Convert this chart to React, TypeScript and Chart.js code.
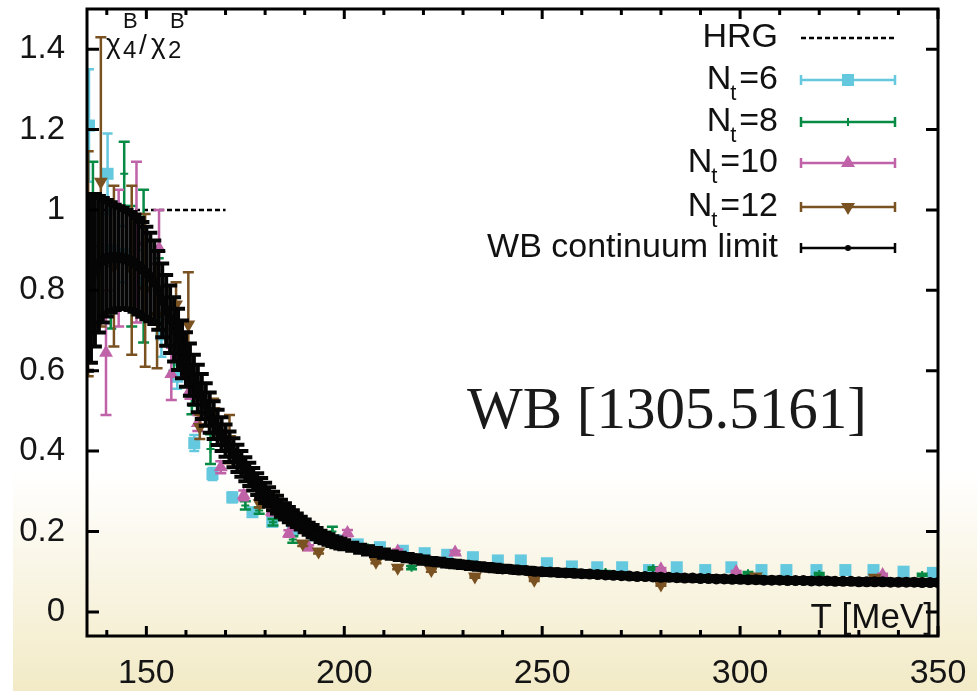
import React, { useEffect, useRef } from "react";
import { Chart, registerables } from "chart.js";

Chart.register(...registerables);

// ---------- axes ----------
const xMin = 135;
const xMax = 350;
const yMin = -0.06;
const yMax = 1.5;
const xTicks = [150, 200, 250, 300, 350];
const xMinorTicks = [140, 160, 170, 180, 190, 210, 220, 230, 240, 260, 270, 280, 290, 310, 320, 330, 340];
const yTicks = [0, 0.2, 0.4, 0.6, 0.8, 1, 1.2, 1.4];

// ---------- HRG ----------
const hrgT = [135, 170];
const hrgV = [1, 1];

// ---------- Nt=6 ----------
const nt6T = [135.5, 140.2, 141, 144, 147.5, 153.8, 157.8, 162.1, 166.7, 171.7, 176.8, 181.8, 187, 192.3, 197.8, 203.4, 209, 214.8, 220.3, 226, 232.5, 238.8, 244.6, 251.2, 257.5, 263.9, 270.2, 277, 284, 291.2, 297.8, 305.4, 311.7, 319.3, 326.6, 333.7, 341.3, 348.7];
const nt6V = [1.21, 1.09, 0.9, 0.89, 0.82, 0.69, 0.585, 0.42, 0.343, 0.285, 0.248, 0.224, 0.205, 0.19, 0.178, 0.168, 0.161, 0.152, 0.146, 0.142, 0.136, 0.128, 0.128, 0.121, 0.113, 0.111, 0.111, 0.104, 0.111, 0.104, 0.111, 0.104, 0.104, 0.104, 0.104, 0.104, 0.1, 0.097];
const nt6E = [0.14, 0.1, 0.1, 0.07, 0.08, 0.055, 0.03, 0.02, 0.015, 0.012, 0.01, 0.008, 0.008, 0.006, 0.005, 0.005, 0.005, 0.004, 0.004, 0.004, 0.003, 0.003, 0.003, 0.003, 0.003, 0.003, 0.003, 0.003, 0.003, 0.003, 0.003, 0.003, 0.003, 0.003, 0.003, 0.003, 0.003, 0.003];

// ---------- Nt=8 ----------
const nt8T = [136.5, 141, 144.4, 146.3, 149.3, 153, 157, 161.5, 166.2, 175, 178.5, 182, 187, 197, 206, 217, 266, 278, 302, 320, 346];
const nt8V = [0.91, 0.86, 1.09, 0.86, 0.86, 0.8, 0.66, 0.512, 0.405, 0.265, 0.252, 0.223, 0.18, 0.2, 0.16, 0.11, 0.099, 0.108, 0.096, 0.094, 0.092];
const nt8E = [0.21, 0.155, 0.08, 0.15, 0.19, 0.08, 0.06, 0.02, 0.037, 0.01, 0.008, 0.008, 0.008, 0.012, 0.005, 0.004, 0.003, 0.003, 0.003, 0.003, 0.003];

// ---------- Nt=10 ----------
const nt10T = [139.8, 143, 147.5, 153.2, 156.3, 161, 163, 168.8, 174.6, 181.7, 186, 191, 200.8, 213.5, 228, 280, 299, 336];
const nt10V = [0.645, 0.88, 0.92, 0.905, 0.592, 0.55, 0.47, 0.36, 0.29, 0.25, 0.195, 0.16, 0.196, 0.15, 0.148, 0.106, 0.099, 0.092];
const nt10E = [0.155, 0.17, 0.2, 0.095, 0.065, 0.02, 0.02, 0.015, 0.012, 0.01, 0.008, 0.006, 0.008, 0.005, 0.004, 0.003, 0.003, 0.003];

// ---------- Nt=12 ----------
const nt12T = [135.3, 138.5, 141.8, 146.3, 149.7, 152.7, 157.5, 160.6, 163.5, 167, 171, 178.6, 189.5, 193.5, 208, 213.5, 222, 233, 248, 280, 304, 334];
const nt12V = [0.866, 1.07, 0.86, 0.85, 0.8, 0.736, 0.765, 0.715, 0.46, 0.5, 0.43, 0.27, 0.17, 0.15, 0.125, 0.11, 0.104, 0.088, 0.08, 0.068, 0.088, 0.085];
const nt12E = [0.28, 0.36, 0.2, 0.21, 0.19, 0.13, 0.055, 0.13, 0.03, 0.03, 0.06, 0.01, 0.006, 0.005, 0.004, 0.004, 0.004, 0.003, 0.003, 0.003, 0.004, 0.004];

// ---------- WB continuum limit ----------
const wbT = [135, 136, 137, 138, 139, 140, 141, 142, 143, 144, 145, 146, 147, 148, 149, 150, 151, 152, 153, 154, 155, 156, 157, 158, 159, 160, 161, 162, 163, 164, 165, 166, 167, 168, 169, 170, 171, 172, 173, 174, 175, 176, 177, 178, 179, 180, 181, 182, 183, 184, 185, 186, 187, 188, 189, 190, 191, 192, 193, 194, 195, 196, 197, 198, 199, 200,
  202, 204, 206, 208, 210, 212, 214, 216, 218, 220, 222, 224, 226, 228, 230, 232, 234, 236, 238, 240, 242, 244, 246, 248, 250, 252, 254, 256, 258, 260, 262, 264, 266, 268, 270, 272, 274, 276, 278, 280, 282, 284, 286, 288, 290, 292, 294, 296, 298, 300, 302, 304, 306, 308, 310, 312, 314, 316, 318, 320, 322, 324, 326, 328, 330, 332, 334, 336, 338, 340, 342, 344, 346, 348, 350];
const wbV = [0.82, 0.83, 0.85, 0.865, 0.875, 0.88, 0.882, 0.882, 0.882, 0.88, 0.877, 0.873, 0.868, 0.86, 0.852, 0.843, 0.833, 0.82, 0.8, 0.775, 0.75, 0.728, 0.703, 0.678, 0.653, 0.628, 0.603, 0.578, 0.556, 0.536, 0.516, 0.496, 0.477, 0.459, 0.442, 0.426, 0.411, 0.396, 0.382, 0.368, 0.355, 0.342, 0.33, 0.318, 0.307, 0.296, 0.286, 0.276, 0.267, 0.258, 0.25, 0.242, 0.235, 0.228, 0.221, 0.214, 0.207, 0.201, 0.195, 0.188, 0.184, 0.18, 0.176, 0.173, 0.17, 0.167,
  0.162, 0.157, 0.153, 0.149, 0.145, 0.141, 0.138, 0.135, 0.132, 0.129, 0.126, 0.124, 0.121, 0.119, 0.117, 0.115, 0.113, 0.111, 0.109, 0.107, 0.106, 0.104, 0.103, 0.101, 0.1, 0.099, 0.098, 0.097, 0.096, 0.095, 0.094, 0.093, 0.092, 0.091, 0.09, 0.089, 0.088, 0.088, 0.087, 0.086, 0.086, 0.085, 0.084, 0.084, 0.083, 0.083, 0.082, 0.082, 0.081, 0.081, 0.08, 0.08, 0.079, 0.079, 0.079, 0.078, 0.078, 0.078, 0.077, 0.077, 0.077, 0.076, 0.076, 0.076, 0.075, 0.075, 0.075, 0.075, 0.074, 0.074, 0.074, 0.074, 0.073, 0.073, 0.073];
const wbE = [0.22, 0.21, 0.19, 0.17, 0.155, 0.145, 0.137, 0.131, 0.127, 0.125, 0.123, 0.122, 0.121, 0.12, 0.118, 0.115, 0.11, 0.104, 0.098, 0.092, 0.088, 0.084, 0.08, 0.076, 0.072, 0.068, 0.065, 0.062, 0.059, 0.056, 0.053, 0.05, 0.047, 0.044, 0.042, 0.04, 0.038, 0.036, 0.034, 0.032, 0.03, 0.029, 0.028, 0.027, 0.026, 0.025, 0.024, 0.023, 0.022, 0.021, 0.02, 0.019, 0.018, 0.017, 0.016, 0.016, 0.015, 0.015, 0.014, 0.014, 0.013, 0.013, 0.012, 0.012, 0.012, 0.011,
  0.01, 0.01, 0.01, 0.01, 0.01, 0.009, 0.009, 0.009, 0.009, 0.009, 0.008, 0.008, 0.008, 0.008, 0.008, 0.008, 0.008, 0.008, 0.008, 0.008, 0.007, 0.007, 0.007, 0.007, 0.007, 0.007, 0.007, 0.007, 0.007, 0.007, 0.006, 0.006, 0.006, 0.006, 0.006, 0.006, 0.006, 0.006, 0.006, 0.006, 0.006, 0.006, 0.006, 0.006, 0.006, 0.006, 0.006, 0.006, 0.006, 0.006, 0.006, 0.006, 0.006, 0.006, 0.006, 0.006, 0.006, 0.006, 0.006, 0.006, 0.006, 0.006, 0.006, 0.006, 0.006, 0.006, 0.006, 0.006, 0.006, 0.006, 0.006, 0.006, 0.006, 0.006, 0.006];

// ---------- legend ----------
const legendLabels = ["HRG", "Nt=6", "Nt=8", "Nt=10", "Nt=12", "WB continuum limit"];

const SANS = "'Liberation Sans', Arial, Helvetica, sans-serif";
const SERIF = "'Liberation Serif', 'Times New Roman', serif";
const C6 = "#64c8de";
const C8 = "#078a44";
const C10 = "#c062a8";
const C12 = "#7a5222";
const CWB = "#050505";

const toPts = (t: number[], v: number[]) => t.map((x, i) => ({ x, y: v[i] }));

const bgPlugin = {
  id: "bg",
  beforeDraw(chart: any) {
    const { ctx, width, height } = chart;
    ctx.save();
    ctx.fillStyle = "#ffffff";
    ctx.fillRect(0, 0, width, height);
    const g = ctx.createLinearGradient(0, 470, 0, height);
    g.addColorStop(0, "rgba(243,235,200,0)");
    g.addColorStop(1, "rgba(242,234,198,1)");
    ctx.fillStyle = g;
    ctx.fillRect(13, 470, width - 13, height - 470);
    ctx.restore();
  },
};

const errPlugin = {
  id: "errbars",
  beforeDatasetDraw(chart: any, args: any) {
    const ds: any = chart.data.datasets[args.index];
    if (!ds.errors) return;
    const { ctx, chartArea } = chart;
    const xs = chart.scales.x;
    const ys = chart.scales.y;
    ctx.save();
    ctx.beginPath();
    ctx.rect(chartArea.left, chartArea.top, chartArea.right - chartArea.left, chartArea.bottom - chartArea.top);
    ctx.clip();
    ctx.strokeStyle = ds.errColor;
    ctx.lineWidth = ds.errWidth;
    const cap = ds.capHalf;
    ds.data.forEach((p: any, i: number) => {
      const e = ds.errors[i];
      const px = xs.getPixelForValue(p.x);
      const top = ys.getPixelForValue(p.y + e);
      const bot = ys.getPixelForValue(p.y - e);
      ctx.beginPath();
      ctx.moveTo(px, top);
      ctx.lineTo(px, bot);
      ctx.moveTo(px - cap, top);
      ctx.lineTo(px + cap, top);
      ctx.moveTo(px - cap, bot);
      ctx.lineTo(px + cap, bot);
      ctx.stroke();
    });
    ctx.restore();
  },
};

function drawMarker(ctx: any, kind: string, x: number, y: number, color: string) {
  ctx.save();
  ctx.fillStyle = color;
  ctx.strokeStyle = color;
  if (kind === "square") {
    ctx.fillRect(x - 6, y - 6, 12, 12);
  } else if (kind === "up") {
    ctx.beginPath();
    ctx.moveTo(x, y - 8);
    ctx.lineTo(x + 7, y + 4);
    ctx.lineTo(x - 7, y + 4);
    ctx.closePath();
    ctx.fill();
  } else if (kind === "down") {
    ctx.beginPath();
    ctx.moveTo(x, y + 8);
    ctx.lineTo(x + 7, y - 4);
    ctx.lineTo(x - 7, y - 4);
    ctx.closePath();
    ctx.fill();
  } else if (kind === "cross") {
    ctx.lineWidth = 2;
    ctx.beginPath();
    ctx.moveTo(x - 4, y);
    ctx.lineTo(x + 4, y);
    ctx.moveTo(x, y - 4);
    ctx.lineTo(x, y + 4);
    ctx.stroke();
  } else if (kind === "dot") {
    ctx.beginPath();
    ctx.arc(x, y, 3, 0, Math.PI * 2);
    ctx.fill();
  }
  ctx.restore();
}

const framePlugin = {
  id: "frame",
  afterDatasetsDraw(chart: any) {
    const { ctx, chartArea } = chart;
    const { left, right, top, bottom } = chartArea;
    const xs = chart.scales.x;
    const ys = chart.scales.y;
    ctx.save();
    ctx.strokeStyle = "#000";
    ctx.lineWidth = 3;
    ctx.strokeRect(left, top, right - left, bottom - top);
    ctx.beginPath();
    xTicks.forEach((v) => {
      const px = xs.getPixelForValue(v);
      ctx.moveTo(px, bottom);
      ctx.lineTo(px, bottom - 10);
      ctx.moveTo(px, top);
      ctx.lineTo(px, top + 10);
    });
    xMinorTicks.forEach((v) => {
      const px = xs.getPixelForValue(v);
      ctx.moveTo(px, bottom);
      ctx.lineTo(px, bottom - 6);
      ctx.moveTo(px, top);
      ctx.lineTo(px, top + 6);
    });
    yTicks.forEach((v) => {
      const py = ys.getPixelForValue(v);
      ctx.moveTo(left, py);
      ctx.lineTo(left + 12, py);
      ctx.moveTo(right, py);
      ctx.lineTo(right - 12, py);
    });
    ctx.stroke();
    ctx.restore();
  },
  afterDraw(chart: any) {
    const { ctx } = chart;
    ctx.save();
    ctx.fillStyle = "#111";
    ctx.textBaseline = "alphabetic";

    // legend
    const rows = [38, 80, 122, 163, 207, 248];
    const textRight = 778;
    const lx0 = 801;
    const lx1 = 895;
    const lxm = 848;
    const styles = [
      { kind: "dash", color: "#000" },
      { kind: "square", color: C6 },
      { kind: "cross", color: C8 },
      { kind: "up", color: C10 },
      { kind: "down", color: C12 },
      { kind: "dot", color: CWB },
    ];
    legendLabels.forEach((lab, i) => {
      const y = rows[i];
      const base = y + 9;
      ctx.fillStyle = "#111";
      if (lab.startsWith("Nt")) {
        const rest = lab.slice(2);
        ctx.font = `34px ${SANS}`;
        ctx.textAlign = "left";
        const restW = ctx.measureText(rest).width;
        const restX = textRight - restW;
        ctx.fillText(rest, restX, base);
        const tX = restX - 9;
        ctx.font = `22px ${SANS}`;
        ctx.fillText("t", tX, base + 11);
        ctx.font = `34px ${SANS}`;
        ctx.textAlign = "right";
        ctx.fillText("N", tX + 1, base);
      } else {
        ctx.font = `34px ${SANS}`;
        ctx.textAlign = "right";
        ctx.fillText(lab, textRight, base);
      }
      const st = styles[i];
      if (st.kind === "dash") {
        ctx.save();
        ctx.strokeStyle = "#000";
        ctx.lineWidth = 2.5;
        ctx.setLineDash([5, 3]);
        ctx.beginPath();
        ctx.moveTo(lx0, y);
        ctx.lineTo(lx1, y);
        ctx.stroke();
        ctx.restore();
      } else {
        ctx.save();
        ctx.strokeStyle = st.color;
        ctx.lineWidth = 2.5;
        ctx.beginPath();
        ctx.moveTo(lx0, y);
        ctx.lineTo(lx1, y);
        ctx.moveTo(lx0, y - 5);
        ctx.lineTo(lx0, y + 5);
        ctx.moveTo(lx1, y - 5);
        ctx.lineTo(lx1, y + 5);
        ctx.stroke();
        ctx.restore();
        drawMarker(ctx, st.kind, lxm, y, st.color);
      }
    });

    // y-axis label chi_4^B / chi_2^B
    ctx.fillStyle = "#111";
    ctx.textAlign = "left";
    ctx.font = `28px ${SANS}`;
    ctx.fillText("χ", 106, 53);
    ctx.fillText("/", 139, 54);
    ctx.fillText("χ", 151, 53);
    ctx.font = `24px ${SANS}`;
    ctx.fillText("4", 123, 58);
    ctx.fillText("2", 168, 58);
    ctx.font = `22px ${SANS}`;
    ctx.fillText("B", 123, 28);
    ctx.fillText("B", 170, 28);

    // x-axis label
    ctx.font = `35px ${SANS}`;
    ctx.textAlign = "right";
    ctx.fillText("T [MeV]", 933, 628);

    // annotation
    ctx.font = `59px ${SERIF}`;
    ctx.textAlign = "left";
    ctx.fillStyle = "#1a1a1a";
    ctx.fillText("WB [1305.5161]", 467, 428);
    ctx.restore();
  },
};

export default function App() {
  const ref = useRef<HTMLCanvasElement | null>(null);
  useEffect(() => {
    document.body.style.margin = "0";
    const canvas = ref.current;
    if (!canvas) return;
    const errDs = (label: string, t: number[], v: number[], e: number[], color: string, style: any, radius: number, rotation: number, order: number, capHalf: number, errWidth: number) => ({
      type: "scatter" as const,
      label,
      data: toPts(t, v),
      errors: e,
      errColor: color,
      errWidth,
      capHalf,
      pointStyle: style,
      pointRadius: radius,
      pointRotation: rotation,
      backgroundColor: color,
      borderColor: color,
      borderWidth: style === "cross" ? 2 : 0,
      showLine: false,
      order,
    });
    const wb: any = errDs("WB continuum limit", wbT, wbV, wbE, CWB, "circle", 3, 0, 1, 7, 4);
    wb.showLine = true;
    wb.borderWidth = 5;
    const chart = new Chart(canvas, {
      type: "scatter",
      data: {
        datasets: [
          {
            type: "line",
            label: "HRG",
            data: toPts(hrgT, hrgV),
            borderColor: "#000",
            borderWidth: 2.5,
            borderDash: [5, 3],
            pointRadius: 0,
            fill: false,
            order: 6,
          } as any,
          errDs("Nt=6", nt6T, nt6V, nt6E, C6, "rect", 8.5, 0, 5, 5, 2.5),
          errDs("Nt=8", nt8T, nt8V, nt8E, C8, "cross", 4, 0, 4, 5.5, 2.5),
          errDs("Nt=10", nt10T, nt10V, nt10E, C10, "triangle", 8, 0, 3, 5.5, 2.5),
          errDs("Nt=12", nt12T, nt12V, nt12E, C12, "triangle", 8, 180, 2, 5.5, 2.5),
          wb,
        ] as any,
      },
      options: {
        animation: false,
        responsive: false,
        maintainAspectRatio: false,
        layout: { padding: { left: 0, right: 39, top: 6, bottom: 0 } },
        plugins: { legend: { display: false }, tooltip: { enabled: false } },
        scales: {
          x: {
            type: "linear",
            min: xMin,
            max: xMax,
            grid: { display: false, drawTicks: false, tickLength: 0 },
            border: { display: false },
            afterBuildTicks: (s: any) => {
              s.ticks = xTicks.map((v) => ({ value: v }));
            },
            afterFit: (s: any) => {
              s.height = 55;
              s.paddingLeft = 0;
              s.paddingRight = 0;
              s.paddingTop = 0;
              s.paddingBottom = 0;
            },
            ticks: {
              font: { family: SANS, size: 34 },
              color: "#151515",
              padding: 17,
              maxRotation: 0,
              autoSkip: false,
              callback: (v: any) => String(v),
            },
          },
          y: {
            type: "linear",
            min: yMin,
            max: yMax,
            grid: { display: false, drawTicks: false, tickLength: 0 },
            border: { display: false },
            afterBuildTicks: (s: any) => {
              s.ticks = yTicks.map((v) => ({ value: v }));
            },
            afterFit: (s: any) => {
              s.width = 87;
              s.paddingLeft = 0;
              s.paddingRight = 0;
              s.paddingTop = 0;
              s.paddingBottom = 0;
            },
            ticks: {
              font: { family: SANS, size: 33 },
              color: "#151515",
              padding: 22,
              autoSkip: false,
              callback: (v: any) => String(Number(Number(v).toFixed(2))),
            },
          },
        },
      } as any,
      plugins: [bgPlugin, errPlugin, framePlugin],
    });
    return () => chart.destroy();
  }, []);
  return (
    <div style={{ width: 977, height: 691 }}>
      <canvas ref={ref} width={977} height={691} style={{ display: "block" }} />
    </div>
  );
}
